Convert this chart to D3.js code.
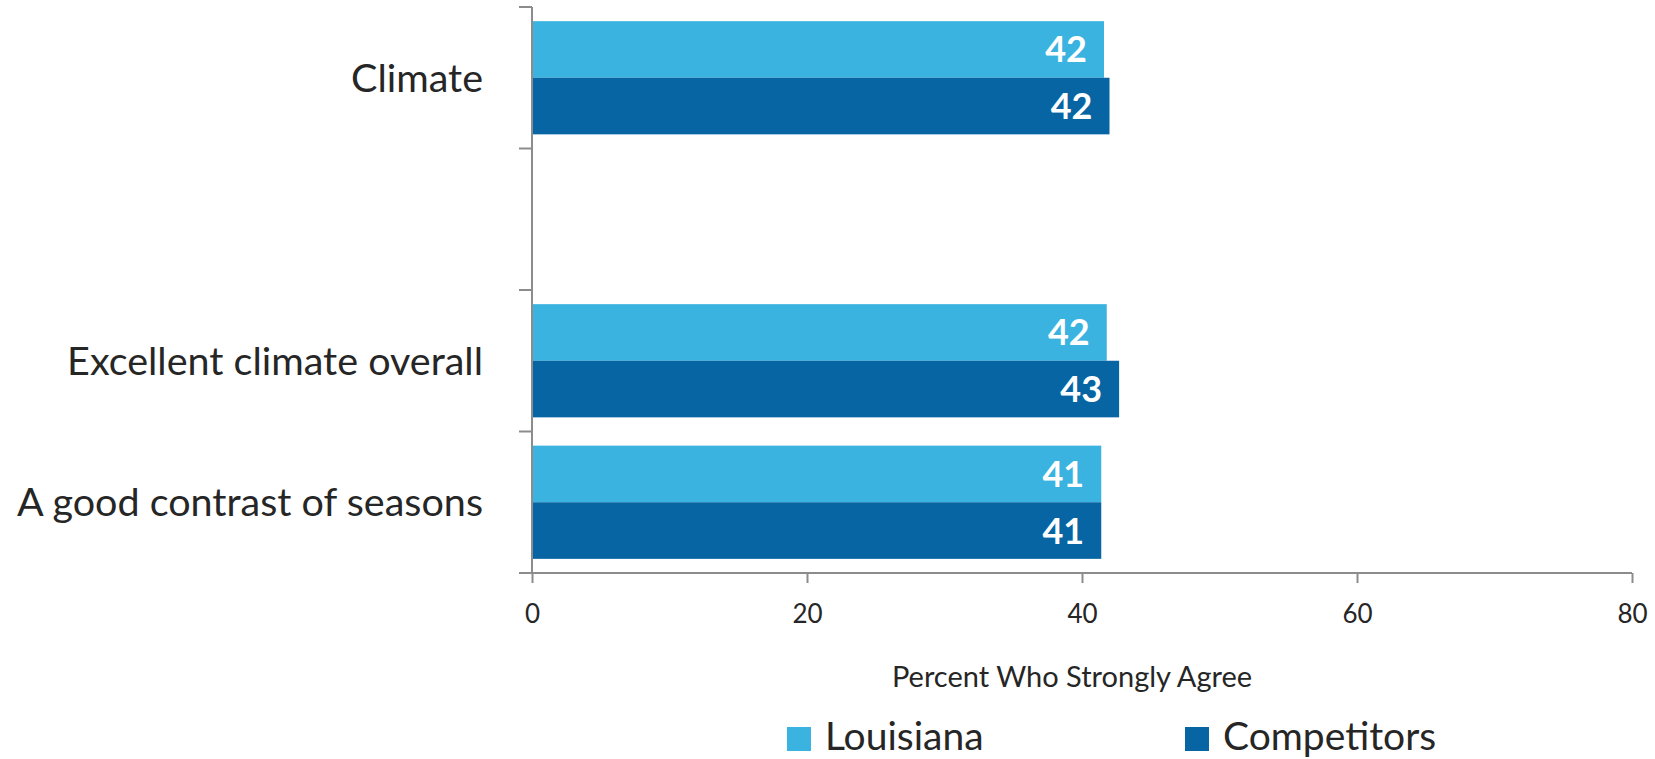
<!DOCTYPE html>
<html>
<head>
<meta charset="utf-8">
<script src="https://cdn.jsdelivr.net/npm/d3@7"></script>
<style>
  html, body { margin: 0; padding: 0; background: #ffffff; }
  svg { display: block; font-family: Lato, "Open Sans", sans-serif; }
</style>
</head>
<body>
<svg id="chart" width="1655" height="759"></svg>
<script>
// Survey rows (blank row separates the group header from its items)
const categories = ["Climate", "", "Excellent climate overall", "A good contrast of seasons"];
const louisiana = [41.6, null, 41.8, 41.4];
const competitors = [42.0, null, 42.7, 41.4];
const seriesNames = ["Louisiana", "Competitors"];
const seriesColors = ["#3bb3e0", "#0665a2"];
const xTicks = [0, 20, 40, 60, 80];
const xTitle = "Percent Who Strongly Agree";

const W = 1655, H = 759;
const margin = { top: 7, right: 23, bottom: 186, left: 532 };
const innerW = W - margin.left - margin.right;
const innerH = H - margin.top - margin.bottom;

const svg = d3.select("#chart");
const g = svg.append("g").attr("transform", `translate(${margin.left},${margin.top})`);

const x = d3.scaleLinear().domain([0, 80]).range([0, innerW]);
const y = d3.scaleBand().domain(categories).range([0, innerH]).padding(0);
const ySub = d3.scaleBand().domain(seriesNames).range([0, y.bandwidth()])
  .paddingInner(0).paddingOuter(0.25);
const color = d3.scaleOrdinal().domain(seriesNames).range(seriesColors);

const rows = categories.map((c, i) => ({
  category: c,
  values: [
    { series: seriesNames[0], value: louisiana[i] },
    { series: seriesNames[1], value: competitors[i] }
  ].filter(d => d.value != null)
}));

const axisColor = "#8c8c8c";
const textColor = "#262626";

// Bars
const rowG = g.selectAll("g.row").data(rows).join("g")
  .attr("class", "row")
  .attr("transform", d => `translate(0,${y(d.category)})`);

rowG.selectAll("rect").data(d => d.values).join("rect")
  .attr("x", x(0))
  .attr("y", d => ySub(d.series))
  .attr("width", d => x(d.value) - x(0))
  .attr("height", ySub.bandwidth())
  .attr("fill", d => color(d.series));

// Value labels inside bar ends
const fmt = d3.format(".0f");
rowG.selectAll("text.val").data(d => d.values).join("text")
  .attr("class", "val")
  .attr("x", d => x(d.value) - 17)
  .attr("y", d => ySub(d.series) + ySub.bandwidth() / 2)
  .attr("dy", "0.36em")
  .attr("text-anchor", "end")
  .attr("fill", "#ffffff")
  .attr("font-weight", "bold")
  .attr("font-size", 36)
  .text(d => fmt(d.value));

// X axis
const xAxis = g.append("g")
  .attr("transform", `translate(0,${innerH})`)
  .call(d3.axisBottom(x).tickValues(xTicks).tickSize(10).tickPadding(22).tickSizeOuter(0));
xAxis.select(".domain").attr("stroke", axisColor).attr("stroke-width", 2)
  .attr("d", `M${-13},0H${innerW}`);
xAxis.selectAll(".tick line").attr("stroke", axisColor).attr("stroke-width", 2);
xAxis.selectAll(".tick text").attr("fill", textColor).attr("font-size", 26)
  .attr("font-family", "Lato, 'Open Sans', sans-serif");

// Y axis: category labels centred on rows, ticks on row boundaries
const yAxis = g.append("g")
  .call(d3.axisLeft(y).tickSize(0).tickPadding(49));
yAxis.select(".domain").remove();
yAxis.selectAll(".tick text").attr("fill", textColor).attr("font-size", 39.5)
  .attr("dy", "0.36em")
  .attr("font-family", "Lato, 'Open Sans', sans-serif");

const boundaries = categories.map(c => y(c)).concat([innerH]);
g.append("line")
  .attr("x1", 0).attr("x2", 0).attr("y1", 0).attr("y2", innerH)
  .attr("stroke", axisColor).attr("stroke-width", 2);
g.selectAll("line.ytick").data(boundaries).join("line")
  .attr("class", "ytick")
  .attr("x1", -13).attr("x2", 0)
  .attr("y1", d => d).attr("y2", d => d)
  .attr("stroke", axisColor).attr("stroke-width", 2);

// Axis title
svg.append("text")
  .attr("x", 1072).attr("y", 687)
  .attr("text-anchor", "middle")
  .attr("fill", textColor)
  .attr("font-size", 29)
  .text(xTitle);

// Legend
const legendX = [787, 1185];
const legend = svg.append("g").attr("transform", "translate(0,727)");
const items = legend.selectAll("g").data(seriesNames).join("g")
  .attr("transform", (d, i) => `translate(${legendX[i]},0)`);
items.append("rect")
  .attr("width", 24).attr("height", 24)
  .attr("fill", d => color(d));
items.append("text")
  .attr("x", 38).attr("y", 23)
  .attr("fill", textColor)
  .attr("font-size", 39)
  .text(d => d);
</script>
</body>
</html>
